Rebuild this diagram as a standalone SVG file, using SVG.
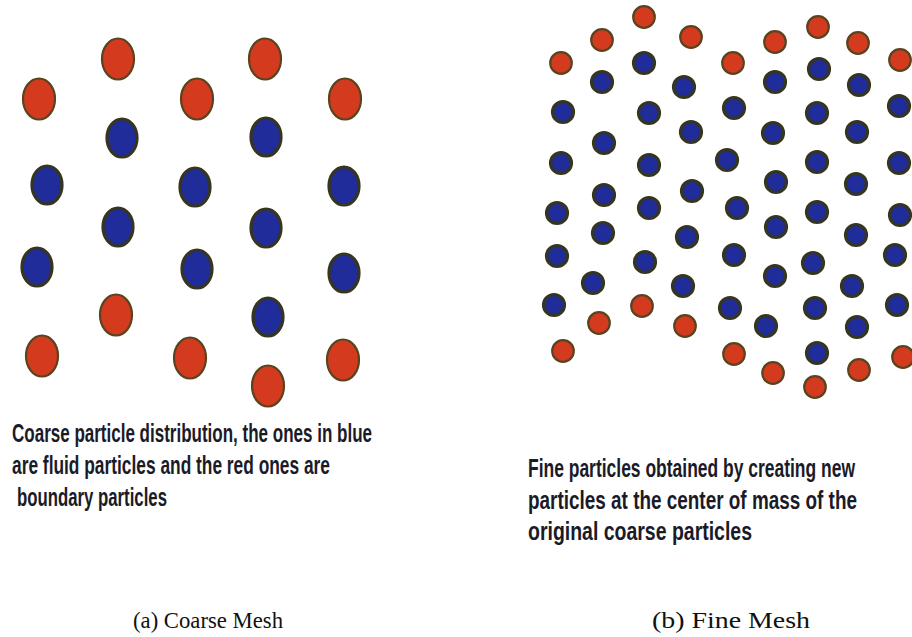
<svg xmlns="http://www.w3.org/2000/svg" width="912" height="637" viewBox="0 0 912 637">
<style>
.r{fill:#d43a1e;stroke:#5a4420;stroke-width:2.2}
.b{fill:#1f2c9a;stroke:#36351f;stroke-width:3.2}
.t{font-family:"Liberation Sans Narrow","Liberation Sans",Arial,sans-serif;font-size:26px;font-weight:bold;fill:#1b1b28}
.c{font-family:"Liberation Serif","Times New Roman",serif;font-size:24px;fill:#111}
</style>
<rect width="912" height="637" fill="#fff"/>
<g id="coarse-mesh">
<g id="coarse-boundary">
<ellipse class="r" cx="118" cy="59" rx="16" ry="20.5"/>
<ellipse class="r" cx="265" cy="59" rx="16" ry="20.5"/>
<ellipse class="r" cx="39" cy="99" rx="16" ry="20.5"/>
<ellipse class="r" cx="197" cy="99" rx="16" ry="20.5"/>
<ellipse class="r" cx="345" cy="99" rx="16" ry="20.5"/>
<ellipse class="r" cx="116" cy="315" rx="16" ry="20.5"/>
<ellipse class="r" cx="42" cy="356" rx="16" ry="20.5"/>
<ellipse class="r" cx="190" cy="358" rx="16" ry="20.5"/>
<ellipse class="r" cx="343" cy="360" rx="16" ry="20.5"/>
<ellipse class="r" cx="268" cy="386" rx="16" ry="20.5"/>
</g>
<g id="coarse-fluid">
<ellipse class="b" cx="122" cy="138" rx="15" ry="19"/>
<ellipse class="b" cx="266" cy="137" rx="15" ry="19"/>
<ellipse class="b" cx="47" cy="185" rx="15" ry="19"/>
<ellipse class="b" cx="195" cy="187" rx="15" ry="19"/>
<ellipse class="b" cx="344" cy="186" rx="15" ry="19"/>
<ellipse class="b" cx="118" cy="227" rx="15" ry="19"/>
<ellipse class="b" cx="266" cy="228" rx="15" ry="19"/>
<ellipse class="b" cx="37" cy="267" rx="15" ry="19"/>
<ellipse class="b" cx="197" cy="269" rx="15" ry="19"/>
<ellipse class="b" cx="344" cy="273" rx="15" ry="19"/>
<ellipse class="b" cx="268" cy="317" rx="15" ry="19"/>
</g>
<g id="coarse-text">
<text class="t" x="12" y="442" textLength="360" lengthAdjust="spacingAndGlyphs">Coarse particle distribution, the ones in blue</text>
<text class="t" x="12" y="474" textLength="318" lengthAdjust="spacingAndGlyphs">are fluid particles and the red ones are</text>
<text class="t" x="17" y="506" textLength="150" lengthAdjust="spacingAndGlyphs">boundary particles</text>
</g>
<text id="caption-a" class="c" x="133" y="628" textLength="150" lengthAdjust="spacingAndGlyphs">(a) Coarse Mesh</text>
</g>
<g id="fine-mesh">
<g id="fine-boundary">
<circle class="r" cx="644" cy="17" r="10.8"/>
<circle class="r" cx="602" cy="40" r="10.8"/>
<circle class="r" cx="691" cy="37" r="10.8"/>
<circle class="r" cx="561" cy="63" r="10.8"/>
<circle class="r" cx="733" cy="63" r="10.8"/>
<circle class="r" cx="775" cy="42" r="10.8"/>
<circle class="r" cx="818" cy="27" r="10.8"/>
<circle class="r" cx="858" cy="43" r="10.8"/>
<circle class="r" cx="900" cy="60" r="10.8"/>
<circle class="r" cx="642" cy="306" r="10.8"/>
<circle class="r" cx="599" cy="323" r="10.8"/>
<circle class="r" cx="685" cy="326" r="10.8"/>
<circle class="r" cx="563" cy="351" r="10.8"/>
<circle class="r" cx="734" cy="354" r="10.8"/>
<circle class="r" cx="773" cy="373" r="10.8"/>
<circle class="r" cx="815" cy="387" r="10.8"/>
<circle class="r" cx="859" cy="370" r="10.8"/>
<circle class="r" cx="903" cy="357" r="10.8"/>
</g>
<g id="fine-fluid">
<circle class="b" cx="644" cy="63" r="10.5"/>
<circle class="b" cx="602" cy="82" r="10.5"/>
<circle class="b" cx="684" cy="87" r="10.5"/>
<circle class="b" cx="775" cy="82" r="10.5"/>
<circle class="b" cx="819" cy="69" r="10.5"/>
<circle class="b" cx="859" cy="85" r="10.5"/>
<circle class="b" cx="563" cy="112" r="10.5"/>
<circle class="b" cx="649" cy="113" r="10.5"/>
<circle class="b" cx="734" cy="108" r="10.5"/>
<circle class="b" cx="817" cy="113" r="10.5"/>
<circle class="b" cx="899" cy="106" r="10.5"/>
<circle class="b" cx="691" cy="132" r="10.5"/>
<circle class="b" cx="773" cy="133" r="10.5"/>
<circle class="b" cx="857" cy="132" r="10.5"/>
<circle class="b" cx="604" cy="143" r="10.5"/>
<circle class="b" cx="561" cy="163" r="10.5"/>
<circle class="b" cx="649" cy="165" r="10.5"/>
<circle class="b" cx="727" cy="160" r="10.5"/>
<circle class="b" cx="817" cy="162" r="10.5"/>
<circle class="b" cx="899" cy="163" r="10.5"/>
<circle class="b" cx="776" cy="182" r="10.5"/>
<circle class="b" cx="856" cy="184" r="10.5"/>
<circle class="b" cx="692" cy="191" r="10.5"/>
<circle class="b" cx="604" cy="195" r="10.5"/>
<circle class="b" cx="557" cy="213" r="10.5"/>
<circle class="b" cx="649" cy="208" r="10.5"/>
<circle class="b" cx="737" cy="208" r="10.5"/>
<circle class="b" cx="817" cy="212" r="10.5"/>
<circle class="b" cx="900" cy="215" r="10.5"/>
<circle class="b" cx="776" cy="227" r="10.5"/>
<circle class="b" cx="603" cy="233" r="10.5"/>
<circle class="b" cx="687" cy="237" r="10.5"/>
<circle class="b" cx="856" cy="235" r="10.5"/>
<circle class="b" cx="557" cy="256" r="10.5"/>
<circle class="b" cx="734" cy="255" r="10.5"/>
<circle class="b" cx="895" cy="255" r="10.5"/>
<circle class="b" cx="645" cy="262" r="10.5"/>
<circle class="b" cx="813" cy="263" r="10.5"/>
<circle class="b" cx="775" cy="276" r="10.5"/>
<circle class="b" cx="593" cy="283" r="10.5"/>
<circle class="b" cx="683" cy="286" r="10.5"/>
<circle class="b" cx="852" cy="286" r="10.5"/>
<circle class="b" cx="554" cy="305" r="10.5"/>
<circle class="b" cx="730" cy="308" r="10.5"/>
<circle class="b" cx="815" cy="308" r="10.5"/>
<circle class="b" cx="897" cy="305" r="10.5"/>
<circle class="b" cx="766" cy="326" r="10.5"/>
<circle class="b" cx="857" cy="327" r="10.5"/>
<circle class="b" cx="817" cy="353" r="10.5"/>
</g>
<g id="fine-text">
<text class="t" x="528" y="477" textLength="327" lengthAdjust="spacingAndGlyphs">Fine particles obtained by creating new</text>
<text class="t" x="528" y="509" textLength="329" lengthAdjust="spacingAndGlyphs">particles at the center of mass of the</text>
<text class="t" x="528" y="540" textLength="224" lengthAdjust="spacingAndGlyphs">original coarse particles</text>
</g>
<text id="caption-b" class="c" x="652" y="628" textLength="158" lengthAdjust="spacingAndGlyphs">(b) Fine Mesh</text>
</g>
</svg>
